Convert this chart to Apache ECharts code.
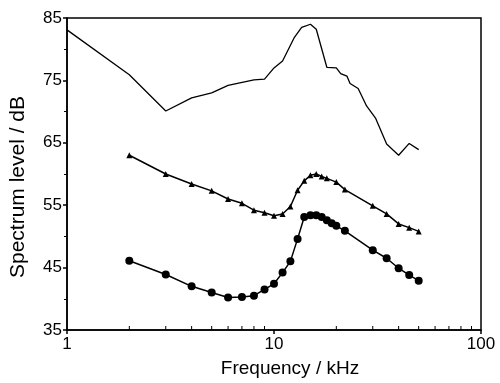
<!DOCTYPE html>
<html>
<head>
<meta charset="utf-8">
<script src="https://cdn.jsdelivr.net/npm/echarts@6/dist/echarts.min.js"></script>
<style>
  html, body { margin: 0; padding: 0; background: #fff; }
  #chart { width: 500px; height: 383px; }
</style>
</head>
<body>
<div id="chart"></div>
<script>
// frequency (kHz) / level (dB)
const plainFreq = [1, 2, 3, 4, 5, 6, 8, 9, 10, 11, 12.5, 13.6, 15, 16, 18, 20, 21, 22.5, 23.3, 25.5, 28, 31, 35, 40, 45, 50];
const plainLevel = [83.1, 75.9, 70.1, 72.2, 73, 74.2, 75.1, 75.2, 77, 78.1, 81.8, 83.5, 84, 83.2, 77.1, 77, 76.1, 75.7, 74.5, 73.7, 70.9, 68.9, 64.8, 63, 64.9, 63.9];

const triFreq = [2, 3, 4, 5, 6, 7, 8, 9, 10, 11, 12, 13, 14, 15, 16, 17, 18, 20, 22, 30, 35, 40, 45, 50];
const triLevel = [63, 60, 58.4, 57.3, 56, 55.3, 54.2, 53.8, 53.3, 53.6, 54.8, 57.4, 58.9, 59.8, 60, 59.6, 59.3, 58.7, 57.5, 54.9, 53.6, 52, 51.4, 50.8];

const dotFreq = [2, 3, 4, 5, 6, 7, 8, 9, 10, 11, 12, 13, 14, 15, 16, 17, 18, 19, 20, 22, 30, 35, 40, 45, 50];
const dotLevel = [46.1, 43.9, 42, 41, 40.2, 40.3, 40.5, 41.5, 42.4, 44.2, 46, 49.6, 53.1, 53.4, 53.4, 53.1, 52.6, 52.1, 51.7, 50.9, 47.8, 46.5, 44.9, 43.8, 42.9];

const xMinorTicks = [2, 3, 4, 5, 6, 7, 8, 9, 20, 30, 40, 50, 60, 70, 80, 90];
const Y_MIN = 35;
const Y_MAX = 85;

const zip = (xs, ys) => xs.map((x, i) => [x, ys[i]]);

const chart = echarts.init(document.getElementById('chart'));
const font = 'Liberation Sans, Arial, sans-serif';

const option = {
  animation: false,
  backgroundColor: '#fff',
  textStyle: { fontFamily: font, color: '#000' },
  grid: {
    left: 67, right: 19, top: 18, bottom: 53,
    show: true, borderColor: '#000', borderWidth: 1.5
  },
  xAxis: {
    type: 'log',
    logBase: 10,
    min: 1,
    max: 100,
    name: 'Frequency / kHz',
    nameLocation: 'middle',
    nameGap: 29,
    nameTextStyle: { fontSize: 19, color: '#000', fontFamily: font, padding: [0, 0, 0, 32] },
    axisLine: { lineStyle: { color: '#000', width: 1.5 } },
    axisTick: { length: 4, lineStyle: { color: '#000', width: 1.5 } },
    axisLabel: { fontSize: 17, color: '#000', margin: 6, fontFamily: font },
    splitLine: { show: false }
  },
  yAxis: {
    type: 'value',
    min: Y_MIN,
    max: Y_MAX,
    interval: 10,
    name: 'Spectrum level / dB',
    nameLocation: 'middle',
    nameGap: 38,
    nameTextStyle: { fontSize: 21, color: '#000', fontFamily: font, padding: [0, 26, 0, 0] },
    axisLine: { lineStyle: { color: '#000', width: 1.5 } },
    axisTick: { length: 4, lineStyle: { color: '#000', width: 1.5 } },
    minorTick: { show: true, splitNumber: 2, length: 3, lineStyle: { color: '#000', width: 1 } },
    axisLabel: { fontSize: 17, color: '#000', margin: 5, fontFamily: font },
    splitLine: { show: false }
  },
  series: [
    {
      type: 'custom',
      silent: true,
      data: xMinorTicks.map(v => [v]),
      encode: { x: 0 },
      renderItem: function (params, api) {
        const p = api.coord([api.value(0), Y_MIN]);
        return {
          type: 'line',
          shape: { x1: p[0], y1: p[1], x2: p[0], y2: p[1] - 4 },
          style: { stroke: '#000', lineWidth: 1 }
        };
      }
    },
    {
      type: 'line',
      data: zip(plainFreq, plainLevel),
      showSymbol: false,
      lineStyle: { color: '#000', width: 1.3 }
    },
    {
      type: 'line',
      data: zip(triFreq, triLevel),
      symbol: 'triangle',
      symbolSize: 6,
      itemStyle: { color: '#000' },
      lineStyle: { color: '#000', width: 1.5 }
    },
    {
      type: 'line',
      data: zip(dotFreq, dotLevel),
      symbol: 'circle',
      symbolSize: 8,
      itemStyle: { color: '#000' },
      lineStyle: { color: '#000', width: 1.5 }
    }
  ]
};

chart.setOption(option);
</script>
</body>
</html>
